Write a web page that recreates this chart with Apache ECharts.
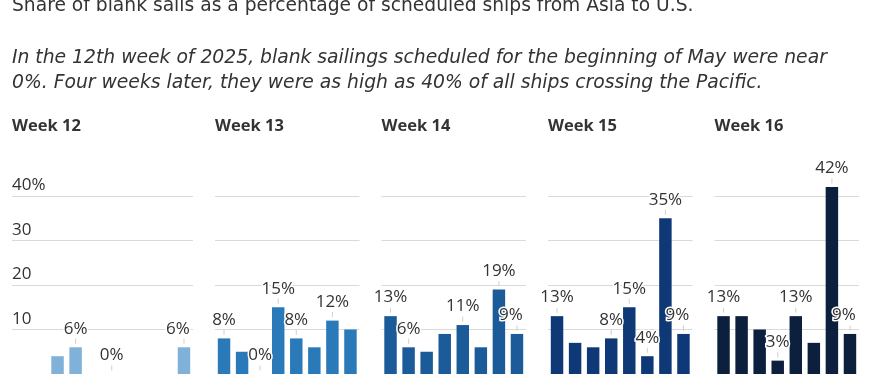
<!DOCTYPE html>
<html>
<head>
<meta charset="utf-8">
<script src="https://cdn.jsdelivr.net/npm/echarts@6/dist/echarts.min.js"></script>
<style>
html,body{margin:0;padding:0;background:#fff;}
#chart{width:872px;height:374px;}
</style>
</head>
<body>
<div id="chart"></div>
<script>
// ---- data ----
const sailings = ['Sailing 1','Sailing 2','Sailing 3','Sailing 4','Sailing 5','Sailing 6','Sailing 7','Sailing 8'];
const weekNames = ['Week 12','Week 13','Week 14','Week 15','Week 16'];
const week12 = [4, 6, 0, 0, 0, 0, 0, 6];
const week13 = [8, 5, 0, 15, 8, 6, 12, 10];
const week14 = [13, 6, 5, 9, 11, 6, 19, 9];
const week15 = [13, 7, 6, 8, 15, 4, 35, 9];
const week16 = [13, 13, 10, 3, 13, 7, 42, 9];
// which bars carry a value label (indices)
const labeled12 = [1, 3, 7];
const labeled13 = [0, 2, 3, 4, 6];
const labeled14 = [0, 1, 4, 6, 7];
const labeled15 = [0, 3, 4, 5, 6, 7];
const labeled16 = [0, 3, 4, 6, 7];
const yTickValues = [0, 10, 20, 30, 40];
const yTickLabels = ['', '10', '20', '30', '40%'];
const headline = 'Share of blank sails as a percentage of scheduled ships from Asia to U.S.';
const note = 'In the 12th week of 2025, blank sailings scheduled for the beginning of May were near\n0%. Four weeks later, they were as high as 40% of all ships crossing the Pacific.';

// ---- styling / layout ----
const weeks = [week12, week13, week14, week15, week16];
const labeled = [labeled12, labeled13, labeled14, labeled15, labeled16];
const colors = ['#80b1d9', '#2a7aba', '#1b5b99', '#0f3877', '#0c1f3d'];
const lefts = [48.5, 215, 381.5, 548, 714.5];
const panelW = 144.5;
const gridTop = 196;
const gridH = 179.5;
const FONT = '"Open Sans", sans-serif';
const TEXTFONT = '"DejaVu Sans", sans-serif';
const textColor = '#333333';
const gridColor = '#dadada';

const grids = [], xAxes = [], yAxes = [], series = [], titles = [];

titles.push({left: 12, top: -3, padding: 0, text: headline,
  textStyle: {fontFamily: TEXTFONT, fontSize: 18.7, fontWeight: 'normal', color: textColor}});
titles.push({left: 12, top: 46, padding: 0, text: note,
  textStyle: {fontFamily: TEXTFONT, fontSize: 18.75, fontStyle: 'italic', fontWeight: 'normal', color: textColor, lineHeight: 24.5}});

weeks.forEach((vals, w) => {
  grids.push({left: lefts[w], top: gridTop, width: panelW, height: gridH, containLabel: false});
  xAxes.push({type: 'category', gridIndex: w, data: sailings, show: false,
    axisLine: {show: false}, axisTick: {show: false}, axisLabel: {show: false}});
  yAxes.push({type: 'value', gridIndex: w, min: 0, max: 40, interval: 10,
    axisLine: {show: false}, axisTick: {show: false}, axisLabel: {show: false},
    splitLine: {show: w !== 0, lineStyle: {color: gridColor, width: 1}}});
  titles.push({left: lefts[w] - (w === 0 ? 36.5 : 0), top: 118, padding: 0, text: weekNames[w],
    textStyle: {fontFamily: FONT, fontSize: 16.5, fontWeight: 'bold', color: textColor}});
  const lab = labeled[w];
  const last = vals.length - 1;
  series.push({
    type: 'bar', xAxisIndex: w, yAxisIndex: w, clip: false,
    barCategoryGap: '31%',
    itemStyle: {color: colors[w]},
    data: vals.map((v, i) => {
      const shown = lab.indexOf(i) >= 0;
      return {
        value: v,
        label: {
          show: shown, position: 'top', distance: 10,
          offset: i === last ? [-6, 0] : [0, 0],
          formatter: '{c}%',
          fontFamily: FONT, fontSize: 17, color: textColor,
          textBorderColor: '#ffffff', textBorderWidth: 3
        }
      };
    }),
    z: 2
  });
  series.push({
    type: 'scatter', xAxisIndex: w, yAxisIndex: w, clip: false, silent: true,
    symbol: 'rect', symbolSize: [1, 5], symbolOffset: [0, -6],
    itemStyle: {color: '#c4c4c4'},
    data: vals.map((v, i) => lab.indexOf(i) >= 0 ? v : null),
    z: 3
  });
});

// Axis-label panel for the first week (gridlines extend under the tick labels)
grids.push({left: 12, top: gridTop, width: 181, height: gridH, containLabel: false});
xAxes.push({type: 'category', gridIndex: 5, data: sailings, show: false});
yAxes.push({type: 'value', gridIndex: 5, min: 0, max: 40, interval: 10,
  axisLine: {show: false}, axisTick: {show: false},
  splitLine: {show: true, lineStyle: {color: gridColor, width: 1}},
  axisLabel: {inside: true, margin: 0, verticalAlign: 'bottom', padding: [0, 0, 2, 0],
    fontFamily: FONT, fontSize: 17, color: textColor,
    formatter: v => yTickLabels[yTickValues.indexOf(v)] ?? ''}});
series.push({type: 'bar', xAxisIndex: 5, yAxisIndex: 5, data: [], silent: true});

const chart = echarts.init(document.getElementById('chart'), null, {renderer: 'canvas'});
chart.setOption({
  animation: false,
  title: titles,
  grid: grids,
  xAxis: xAxes,
  yAxis: yAxes,
  series: series,
  tooltip: {show: false}
});
</script>
</body>
</html>
